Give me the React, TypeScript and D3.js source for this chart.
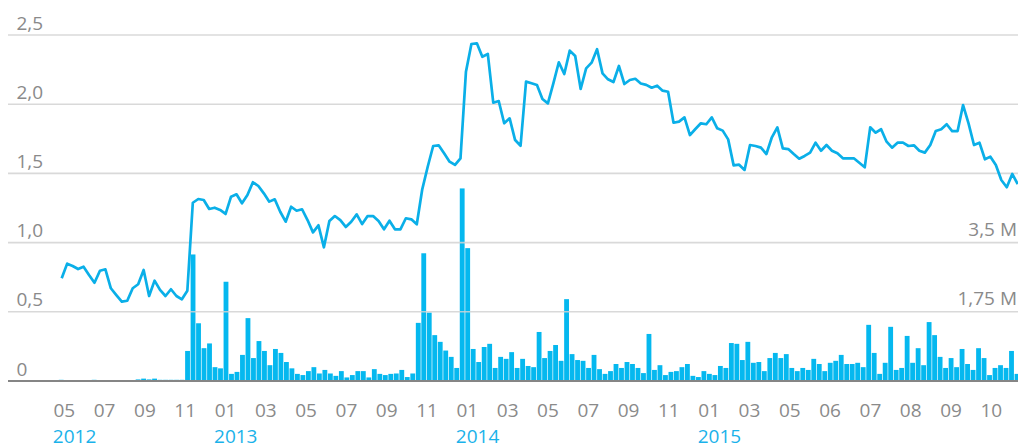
import React from "react";
import * as d3 from "d3";

// Price series (weekly closes), left axis
const price: number[] = [
  0.742, 0.848, 0.831, 0.809, 0.826, 0.766, 0.71, 0.797, 0.807, 0.67,
  0.621, 0.573, 0.58, 0.67, 0.699, 0.802, 0.614, 0.725, 0.658, 0.614,
  0.663, 0.614, 0.59, 0.652, 1.288, 1.315, 1.308, 1.243, 1.252, 1.236,
  1.207, 1.332, 1.349, 1.284, 1.344, 1.436, 1.409, 1.356, 1.296, 1.313,
  1.223, 1.151, 1.259, 1.23, 1.241, 1.163, 1.074, 1.125, 0.966, 1.156,
  1.192, 1.163, 1.113, 1.151, 1.204, 1.134, 1.192, 1.192, 1.156, 1.096,
  1.158, 1.096, 1.096, 1.176, 1.168, 1.132, 1.385, 1.548, 1.698, 1.703,
  1.645, 1.585, 1.561, 1.609, 2.235, 2.435, 2.44, 2.343, 2.363, 2.011,
  2.023, 1.862, 1.898, 1.741, 1.7, 2.163, 2.151, 2.139, 2.038, 2.006,
  2.151, 2.303, 2.218, 2.387, 2.348, 2.11, 2.259, 2.3, 2.397, 2.223,
  2.18, 2.16, 2.276, 2.146, 2.175, 2.184, 2.15, 2.14, 2.119, 2.134,
  2.098, 2.09, 1.866, 1.874, 1.905, 1.777, 1.821, 1.862, 1.855, 1.905,
  1.826, 1.809, 1.746, 1.558, 1.563, 1.525, 1.705, 1.698, 1.686, 1.64,
  1.761, 1.833, 1.681, 1.676, 1.64, 1.606, 1.626, 1.65, 1.722, 1.664,
  1.705, 1.664, 1.645, 1.609, 1.609, 1.609, 1.577, 1.544, 1.833, 1.794,
  1.819, 1.729, 1.686, 1.722, 1.722, 1.698, 1.703, 1.664, 1.65, 1.705,
  1.806, 1.819, 1.855, 1.806, 1.806, 1.994, 1.862, 1.705, 1.722, 1.602,
  1.621, 1.561, 1.452, 1.4, 1.496, 1.423,
];

// Volume series in millions, right axis
const volume: number[] = [
  0.03, 0.02, 0.02, 0.02, 0.01, 0.01, 0.03, 0.02, 0.02, 0.02,
  0.02, 0.02, 0.02, 0.02, 0.04, 0.06, 0.04, 0.06, 0.03, 0.03,
  0.03, 0.03, 0.03, 0.76, 3.2, 1.46, 0.83, 0.95, 0.35, 0.32,
  2.51, 0.18, 0.23, 0.66, 1.59, 0.58, 1.01, 0.76, 0.4, 0.81,
  0.71, 0.48, 0.32, 0.18, 0.15, 0.25, 0.35, 0.19, 0.28, 0.19,
  0.13, 0.25, 0.09, 0.15, 0.25, 0.25, 0.09, 0.3, 0.18, 0.15,
  0.18, 0.19, 0.28, 0.1, 0.19, 1.47, 3.23, 1.73, 1.16, 0.99,
  0.77, 0.61, 0.33, 4.87, 3.36, 0.81, 0.48, 0.86, 0.94, 0.33,
  0.61, 0.56, 0.73, 0.33, 0.56, 0.38, 0.35, 1.24, 0.58, 0.76,
  0.91, 0.51, 2.07, 0.68, 0.53, 0.51, 0.33, 0.66, 0.3, 0.18,
  0.25, 0.43, 0.33, 0.48, 0.43, 0.33, 0.2, 1.19, 0.28, 0.4,
  0.15, 0.23, 0.25, 0.35, 0.43, 0.13, 0.1, 0.25, 0.18, 0.15,
  0.38, 0.33, 0.96, 0.94, 0.53, 0.99, 0.46, 0.48, 0.25, 0.58,
  0.71, 0.58, 0.68, 0.33, 0.25, 0.33, 0.28, 0.56, 0.43, 0.25,
  0.46, 0.51, 0.66, 0.43, 0.43, 0.46, 0.35, 1.42, 0.71, 0.18,
  0.46, 1.37, 0.28, 0.33, 1.14, 0.46, 0.83, 0.4, 1.49, 1.16,
  0.61, 0.33, 0.58, 0.35, 0.81, 0.43, 0.28, 0.83, 0.58, 0.15,
  0.33, 0.4, 0.33, 0.76, 0.18,
];

const monthLabels: string[] = [
  "05", "07", "09", "11", "01", "03", "05", "07", "09", "11", "01", "03",
  "05", "07", "09", "11", "01", "03", "05", "06", "07", "08", "09", "10",
];
const yearLabels: { year: string; at: number }[] = [
  { year: "2012", at: 0 },
  { year: "2013", at: 4 },
  { year: "2014", at: 10 },
  { year: "2015", at: 16 },
];
const priceTicks: number[] = [0, 0.5, 1.0, 1.5, 2.0, 2.5];
const volumeTicks: number[] = [1.75, 3.5];

const W = 1018;
const H = 446;
const LINE_COLOR = "#0aafe8";
const BAR_COLOR = "#05b8ef";
const TEXT_COLOR = "#8a8a8a";
const YEAR_COLOR = "#1ab2ea";
const FONT = "'Open Sans', 'DejaVu Sans', sans-serif";

export default function App() {
  const xLine = d3.scaleLinear().domain([0, price.length - 1]).range([61.7, 1017.7]);
  const xBar = d3.scaleLinear().domain([0, volume.length - 1]).range([61.2, 1017]);
  const yPrice = d3.scaleLinear().domain([0, 2.5]).range([381, 35]);
  const yVol = d3.scaleLinear().domain([0, 3.5]).range([381, yPrice(1.0)]);
  const xTick = d3.scalePoint<number>().domain(monthLabels.map((_, i) => i)).range([64.3, 991.3]);

  const barW = (xBar(1) - xBar(0)) * 0.88;
  const linePath = d3
    .line<number>()
    .x((_, i) => xLine(i))
    .y((d) => yPrice(d))(price) as string;

  const fmtPrice = (v: number) => (v === 0 ? "0" : d3.format(".1f")(v).replace(".", ","));
  const fmtVol = (v: number) => String(v).replace(".", ",") + " M";

  return (
    <svg
      width={W}
      height={H}
      style={{ position: "absolute", left: 0, top: 0, background: "#fff" }}
      fontFamily={FONT}
    >
      {volume.map((v, i) => (
        <rect
          key={"b" + i}
          x={xBar(i) - barW / 2}
          y={yVol(v)}
          width={barW}
          height={381 - yVol(v)}
          fill={BAR_COLOR}
        />
      ))}
      {priceTicks
        .filter((t) => t > 0)
        .map((t) => (
          <line
            key={"g" + t}
            x1={8}
            x2={W}
            y1={yPrice(t)}
            y2={yPrice(t)}
            stroke="#d2d2d2"
            strokeOpacity={0.85}
            strokeWidth={1.6}
          />
        ))}
      <line x1={8} x2={W} y1={381} y2={381} stroke="#858585" strokeWidth={2.2} />
      <path d={linePath} fill="none" stroke={LINE_COLOR} strokeWidth={2.7} strokeLinejoin="round" />
      {priceTicks.map((t) => (
        <text key={"pl" + t} x={16.5} y={yPrice(t) - 5.5} fontSize={19} fill={TEXT_COLOR}>
          {fmtPrice(t)}
        </text>
      ))}
      {volumeTicks.map((t) => (
        <text
          key={"vl" + t}
          x={1017}
          y={yVol(t) - 6.5}
          fontSize={19}
          fill={TEXT_COLOR}
          textAnchor="end"
        >
          {fmtVol(t)}
        </text>
      ))}
      {monthLabels.map((m, i) => (
        <text
          key={"m" + i}
          x={xTick(i)}
          y={416.5}
          fontSize={19}
          fill={TEXT_COLOR}
          textAnchor="middle"
        >
          {m}
        </text>
      ))}
      {yearLabels.map((yl) => (
        <text key={yl.year} x={(xTick(yl.at) as number) - 11.5} y={443} fontSize={19} fill={YEAR_COLOR}>
          {yl.year}
        </text>
      ))}
    </svg>
  );
}
